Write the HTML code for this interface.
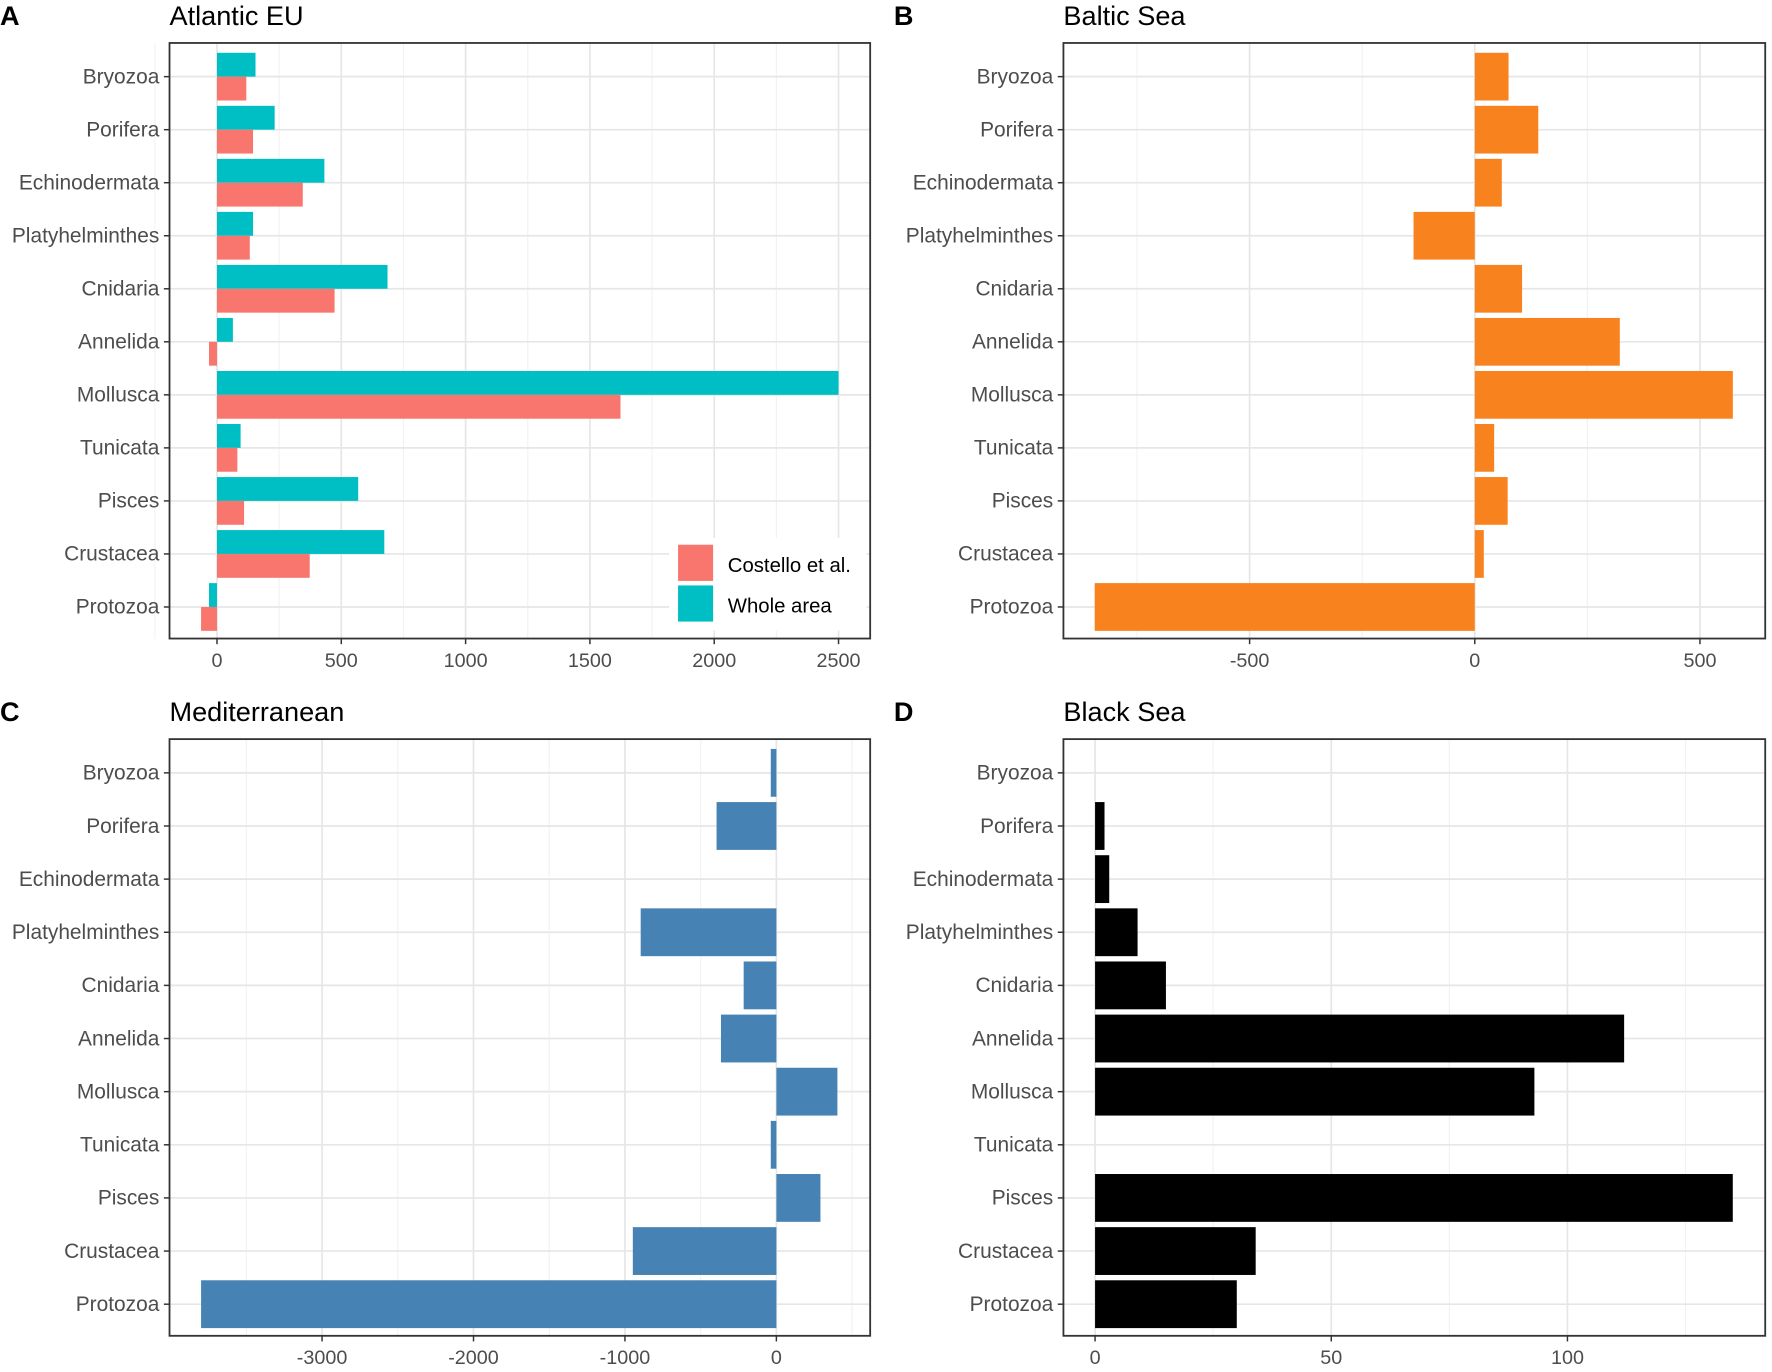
<!DOCTYPE html>
<html><head><meta charset="utf-8">
<style>
html,body{margin:0;padding:0;background:#fff;}
svg{display:block;font-family:"Liberation Sans",Arial,sans-serif;}
</style></head>
<body>
<svg id="fig" width="1772" height="1372" viewBox="0 0 1568 1214" xmlns="http://www.w3.org/2000/svg"></svg>
<script>
const categories = ["Bryozoa","Porifera","Echinodermata","Platyhelminthes","Cnidaria","Annelida","Mollusca","Tunicata","Pisces","Crustacea","Protozoa"];
const atlanticWhole = [155,232,432,145,686,64,2500,95,568,673,-32];
const atlanticCostello = [118,145,345,132,473,-32,1623,82,109,373,-64];
const balticValues = [75,141,60,-136,105,322,573,43,73,20,-844];
const medValues = [-37,-395,0,-896,-216,-366,403,-37,291,-948,-3799];
const blackValues = [0,2,3,9,15,112,93,0,135,34,30];
const atlanticTicks = [0,500,1000,1500,2000,2500];
const balticTicks = [-500,0,500];
const medTicks = [-3000,-2000,-1000,0];
const blackTicks = [0,50,100];
const legendLabels = ["Costello et al.","Whole area"];

const NS="http://www.w3.org/2000/svg";
const svg=document.getElementById('fig');
function mk(tag,attrs,parent){const e=document.createElementNS(NS,tag);for(const k in attrs)e.setAttribute(k,attrs[k]);(parent||svg).appendChild(e);return e;}

function panel(cfg){
  const g=mk('g',{});
  
  
  const {x0,x1,y0,y1}=cfg.box;
  const sx=v=>cfg.px0+(v-cfg.v0)*cfg.k;
  const step=(y1-y0)/11.23;
  const cy=i=>y0+step*0.635+i*step;
  const lt=mk('text',{x:cfg.lx,y:y0-16,'font-size':24,'font-weight':'bold',fill:'#000'},g);lt.textContent=cfg.letter;
  
  const tt=mk('text',{x:x0,y:y0-16,'font-size':24,fill:'#000'},g);tt.textContent=cfg.title;
  
  for(let i=0;i<cfg.ticks.length-1;i++){const m=(cfg.ticks[i]+cfg.ticks[i+1])/2;
    mk('line',{x1:sx(m),x2:sx(m),y1:y0,y2:y1,stroke:'#f2f2f2','stroke-width':1},g);}
  const extra=cfg.extraMinor||[];
  extra.forEach(m=>mk('line',{x1:sx(m),x2:sx(m),y1:y0,y2:y1,stroke:'#f2f2f2','stroke-width':1},g));
  cfg.ticks.forEach(t=>mk('line',{x1:sx(t),x2:sx(t),y1:y0,y2:y1,stroke:'#e6e6e6','stroke-width':1.5},g));
  categories.forEach((c,i)=>mk('line',{x1:x0,x2:x1,y1:cy(i),y2:cy(i),stroke:'#e6e6e6','stroke-width':1.5},g));
  const bw=step*0.9;
  cfg.series.forEach((s,si)=>{
    const n=cfg.series.length, h=bw/n;
    s.values.forEach((v,i)=>{
      const top=cy(i)-bw/2+ (n===2?(si===0?0:h):0);
      const a=sx(0),b=sx(v);
      const r=mk('rect',{x:Math.min(a,b),y:top,width:Math.abs(b-a),height:h,fill:s.color},g);
      
      
    });
  });
  const bx=mk('rect',{x:x0,y:y0,width:x1-x0,height:y1-y0,fill:'none',stroke:'#333','stroke-width':1.6},g);
  
  categories.forEach((c,i)=>{
    mk('line',{x1:x0-5,x2:x0,y1:cy(i),y2:cy(i),stroke:'#333','stroke-width':1.3},g);
    const t=mk('text',{x:x0-9,y:cy(i)+6,'font-size':18.5,fill:'#4d4d4d','text-anchor':'end'},g);t.textContent=c;
    
  });
  cfg.ticks.forEach(tv=>{
    mk('line',{x1:sx(tv),x2:sx(tv),y1:y1,y2:y1+5,stroke:'#333','stroke-width':1.3},g);
    const t=mk('text',{x:sx(tv),y:y1+25,'font-size':17.5,fill:'#4d4d4d','text-anchor':'middle'},g);t.textContent=String(tv);
    
  });
  return g;
}

panel({name:'panel-atlantic-eu',letter:'A',lx:0,title:'Atlantic EU',box:{x0:150,x1:770,y0:38,y1:565},
  px0:192,v0:0,k:0.22,ticks:atlanticTicks,extraMinor:[-250],
  series:[{key:'whole-area',values:atlanticWhole,color:'#00BFC4'},{key:'costello',values:atlanticCostello,color:'#F8766D'}]});
panel({name:'panel-baltic-sea',letter:'B',lx:791,title:'Baltic Sea',box:{x0:941,x1:1562,y0:38,y1:565},
  px0:1305,v0:0,k:0.3985,ticks:balticTicks,extraMinor:[-750],
  series:[{key:'baltic',values:balticValues,color:'#F8821E'}]});
panel({name:'panel-mediterranean',letter:'C',lx:0,title:'Mediterranean',box:{x0:150,x1:770,y0:654,y1:1182},
  px0:687,v0:0,k:0.134,ticks:medTicks,extraMinor:[-3500,500],
  series:[{key:'med',values:medValues,color:'#4682B4'}]});
panel({name:'panel-black-sea',letter:'D',lx:791,title:'Black Sea',box:{x0:941,x1:1562,y0:654,y1:1182},
  px0:969,v0:0,k:4.18,ticks:blackTicks,extraMinor:[125],
  series:[{key:'black',values:blackValues,color:'#000000'}]});

const lg=mk('g',{});


mk('rect',{x:592,y:476,width:175,height:82,fill:'#fff'},lg);
const lcols=['#F8766D','#00BFC4'];
legendLabels.forEach((l,i)=>{
  const r=mk('rect',{x:600,y:482+i*36,width:31,height:32,fill:lcols[i]},lg);
  
  const t=mk('text',{x:644,y:506+i*36,'font-size':18,fill:'#000'},lg);t.textContent=l;
  
});
</script>
</body></html>
